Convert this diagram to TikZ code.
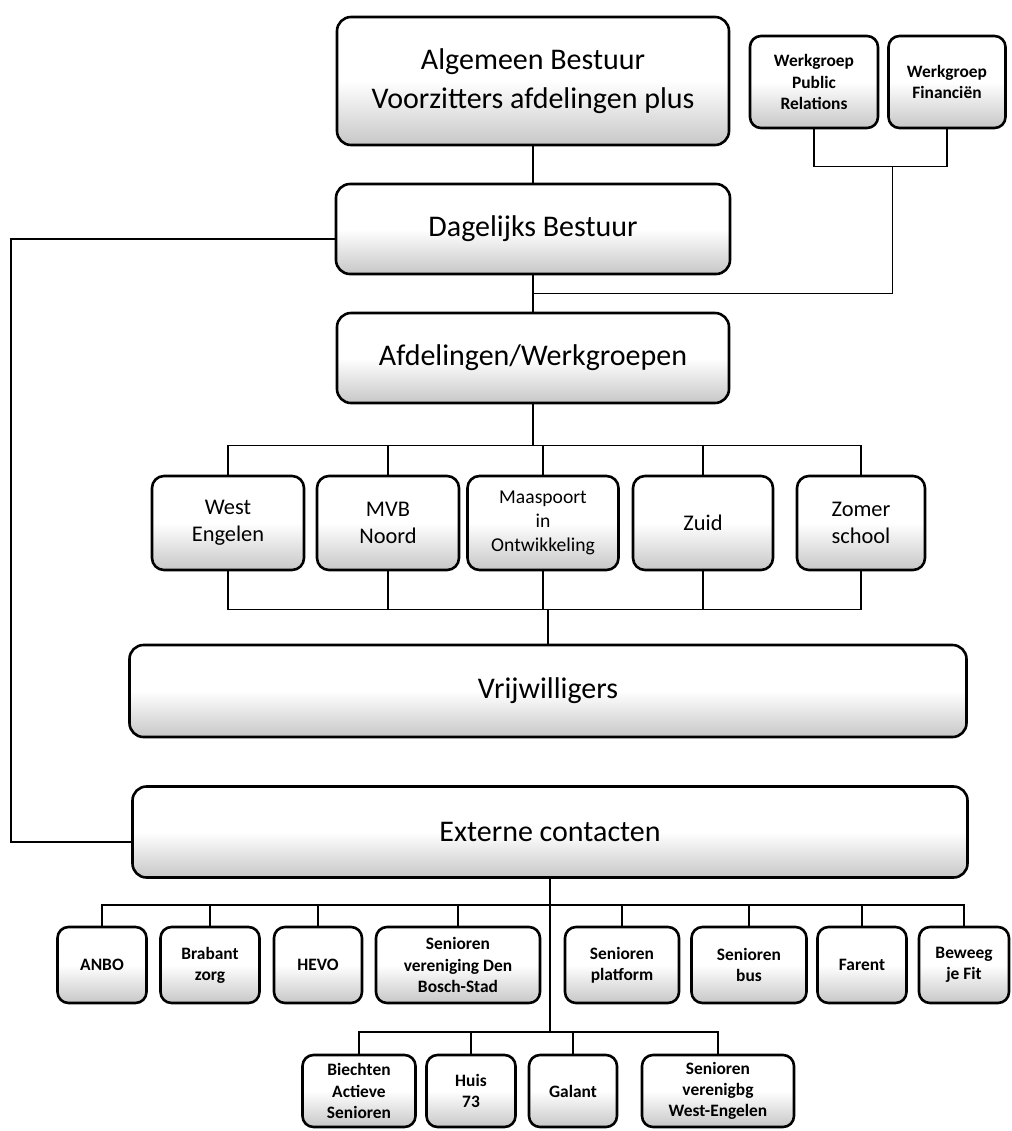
\documentclass[tikz,border=0pt]{standalone}
\usepackage{fontspec}
\setmainfont{Carlito}
\usetikzlibrary{calc}

\begin{document}
\begin{tikzpicture}[x=0.5pt, y=-0.5pt,
  box/.style={rectangle, rounded corners=7pt, draw=black, line width=1.3pt, top color=white, bottom color=black!22, middle color=white, text centered, align=center, inner sep=1pt},
  bigbox/.style={box, font=\fontsize{15}{19.5}\selectfont},
  midbox/.style={box, rounded corners=6pt, minimum height=47pt, font=\fontsize{11.2}{13.5}\selectfont},
  smallbox/.style={box, rounded corners=5.5pt, font=\bfseries\fontsize{8.7}{10.6}\selectfont},
  line/.style={line width=0.8pt}]

  \useasboundingbox (0,0) rectangle (1012,1131);

  % Nodes
  \node (alg) [bigbox, minimum width=196pt, minimum height=64pt] at (533,81) {Algemeen Bestuur\\Voorzitters afdelingen plus};
  \node (dag) [bigbox, minimum width=197pt, minimum height=45pt] at (533,229) {Dagelijks Bestuur};
  \node (afd) [bigbox, minimum width=196pt, minimum height=45pt] at (533,358) {Afdelingen/Werkgroepen};

  \node (wpr) [smallbox, minimum width=64pt, minimum height=46pt] at (814,82) {Werkgroep\\Public\\Relations};
  \node (wfin) [smallbox, minimum width=58.5pt, minimum height=46pt] at (947,82) {Werkgroep\\Financiën};

  \node (west) [midbox, minimum width=76pt] at (228,523) {West\\Engelen};
  \node (mvb) [midbox, minimum width=71pt] at (388,523) {MVB\\Noord};
  \node (maas) [midbox, minimum width=75.5pt, font=\fontsize{9.8}{12}\selectfont] at (543,523) {Maaspoort\\in\\Ontwikkeling};
  \node (zuid) [midbox, minimum width=70pt] at (703,523) {Zuid};
  \node (zomer) [midbox, minimum width=64pt] at (861,523) {Zomer\\school};

  \node (vrij) [bigbox, minimum width=418.5pt, minimum height=46pt] at (548,691) {Vrijwilligers};
  \node (ext) [bigbox, minimum width=417.5pt, minimum height=45.5pt] at (550,832) {Externe contacten};

  \node (anbo) [smallbox, minimum width=44.5pt, minimum height=38pt] at (102,965) {ANBO};
  \node (brab) [smallbox, minimum width=49.5pt, minimum height=38pt] at (210,965) {Brabant\\zorg};
  \node (hevo) [smallbox, minimum width=44pt, minimum height=38pt] at (318,965) {HEVO};
  \node (sdbs) [smallbox, minimum width=82pt, minimum height=38pt] at (458,965) {Senioren\\vereniging Den\\Bosch-Stad};
  \node (splat) [smallbox, minimum width=57pt, minimum height=38pt] at (622,965) {Senioren\\platform};
  \node (sbus) [smallbox, minimum width=57.5pt, minimum height=38pt] at (749,965) {Senioren\\bus};
  \node (farent) [smallbox, minimum width=44.5pt, minimum height=38pt] at (862,965) {Farent};
  \node (beweeg) [smallbox, minimum width=45pt, minimum height=38pt] at (964,965) {Beweeg\\je Fit};

  \node (biech) [smallbox, minimum width=56.5pt, minimum height=36pt] at (359,1091) {Biechten\\Actieve\\Senioren};
  \node (huis) [smallbox, minimum width=44.5pt, minimum height=36pt] at (471,1091) {Huis\\73};
  \node (galant) [smallbox, minimum width=44pt, minimum height=36pt] at (573,1091) {Galant};
  \node (swe) [smallbox, minimum width=76pt, minimum height=36pt] at (718,1091) {Senioren\\verenigbg\\West-Engelen};

  % Lines
  \draw [line] (alg) -- (dag);
  \draw [line] (dag) -- (afd);

  \coordinate (wjoin) at ($(wpr.south)!0.5!(wfin.south)+(12,37)$);
  \draw [line] (wpr.south) |- (wjoin) -| (wfin.south);
  \draw [line] (wjoin) |- ($(dag.south)!0.5!(afd.north)$);

  \draw [line] ([yshift=-5pt]dag.west) -- ++(-324,0) |- ([yshift=-5pt]ext.west);

  \foreach \n in {west,mvb,maas,zuid,zomer} {
    \draw [line] (afd.south) -- ++(0,41) -| (\n.north);
    \draw [line] (\n.south) -- ++(0,38) -| (vrij.north);
  }

  \foreach \n in {anbo,brab,hevo,sdbs,splat,sbus,farent,beweeg}
    \draw [line] (ext.south) -- ++(0,26) -| (\n.north);
  \foreach \n in {biech,huis,galant,swe}
    \draw [line] (ext.south) -- ++(0,153) -| (\n.north);

\end{tikzpicture}
\end{document}
